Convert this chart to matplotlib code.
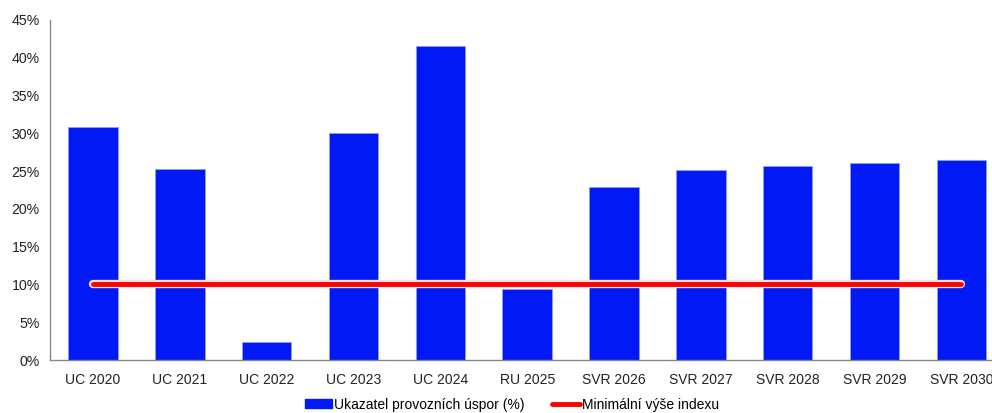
import matplotlib.pyplot as plt
import matplotlib.patheffects as pe
from matplotlib.lines import Line2D
from matplotlib.patches import Patch
import numpy as np

plt.rcParams['font.family'] = ['Liberation Sans', 'DejaVu Sans']

categories = ["UC 2020", "UC 2021", "UC 2022", "UC 2023", "UC 2024", "RU 2025",
              "SVR 2026", "SVR 2027", "SVR 2028", "SVR 2029", "SVR 2030"]
uspory = [30.9, 25.3, 2.4, 30.0, 41.6, 9.4, 22.9, 25.1, 25.7, 26.1, 26.5]
min_index = [10.0] * len(categories)

bar_color = '#0019F5'
line_color = '#FF0000'

fig = plt.figure(figsize=(9.92, 4.13), dpi=100)
ax = fig.add_axes([0.0499, 0.1283, 0.963, 0.8233])

x = np.arange(len(categories))
ax.bar(x, uspory, width=0.57, color=bar_color, edgecolor='#8f9cf5', linewidth=0.6, zorder=2)
ax.plot(x, min_index, color=line_color, linewidth=3.5, solid_capstyle='round', zorder=3,
        path_effects=[pe.Stroke(linewidth=6, foreground='#f2e4ee'), pe.Normal()])

ax.set_xlim(-0.5, len(categories) - 0.5)
ax.set_ylim(0, 45)
ax.set_yticks(np.arange(0, 46, 5))
ax.set_yticklabels([f"{v}%" for v in range(0, 46, 5)], fontsize=10.2, color='#222222')
ax.set_xticks(x)
ax.set_xticklabels(categories, fontsize=10, color='#222222')
ax.tick_params(axis='both', length=0)
ax.tick_params(axis='x', pad=9)
ax.tick_params(axis='y', pad=7)

for side in ['top', 'right']:
    ax.spines[side].set_visible(False)
for side in ['left', 'bottom']:
    ax.spines[side].set_color('#888888')
    ax.spines[side].set_linewidth(1)

handles = [Patch(facecolor=bar_color, edgecolor=bar_color),
           Line2D([0], [0], color=line_color, linewidth=3.5, solid_capstyle='round')]
labels = ["Ukazatel provozních úspor (%)", "Minimální výše indexu"]
fig.legend(handles, labels, loc='center', bbox_to_anchor=(0.516, 0.02), ncol=2,
           frameon=False, fontsize=10, handlelength=1.95, handletextpad=0.15,
           columnspacing=2.0, handleheight=0.6)

fig.savefig('out.png', dpi=100)
